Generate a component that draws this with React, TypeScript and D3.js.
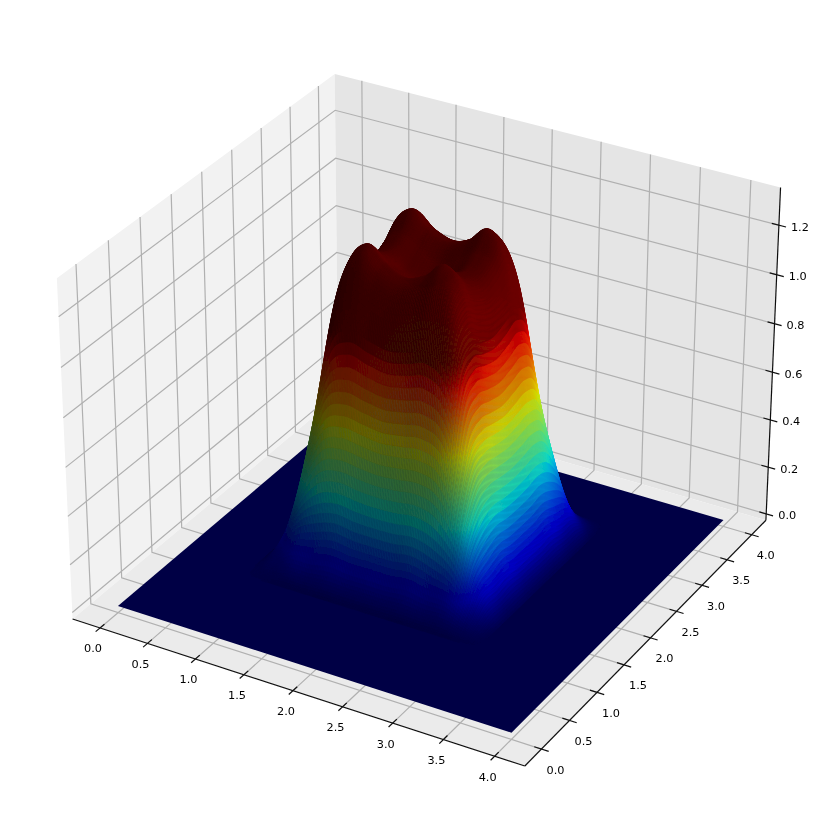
import React, { useEffect, useRef } from 'react';
import * as d3 from 'd3';

// Surface heights, rows are y, columns are x
const xGrid = [0.7, 0.9, 1.1, 1.3, 1.5, 1.7, 1.9, 2.1, 2.3, 2.5, 2.7, 2.9, 3.1];
const yGrid = [1.0, 1.2, 1.4, 1.6, 1.8, 2.0, 2.2, 2.4, 2.6, 2.8, 3.0, 3.2, 3.4];
const zGrid = [
  [0, 0, 0, 0, 0, 0, 0, 0, 0, 0, 0, 0, 0],
  [0, 0.05, 0.13, 0.15, 0.17, 0.16, 0.16, 0.16, 0.17, 0.15, 0.13, 0.05, 0],
  [0, 0.13, 0.40, 0.59, 0.63, 0.62, 0.61, 0.62, 0.63, 0.59, 0.40, 0.13, 0],
  [0, 0.15, 0.59, 1.03, 1.14, 1.11, 1.09, 1.11, 1.14, 1.03, 0.59, 0.15, 0],
  [0, 0.17, 0.63, 1.14, 1.28, 1.22, 1.19, 1.22, 1.28, 1.14, 0.63, 0.17, 0],
  [0, 0.16, 0.62, 1.11, 1.22, 1.17, 1.13, 1.17, 1.22, 1.11, 0.62, 0.16, 0],
  [0, 0.16, 0.61, 1.09, 1.19, 1.13, 1.1, 1.13, 1.19, 1.09, 0.61, 0.16, 0],
  [0, 0.16, 0.62, 1.11, 1.22, 1.17, 1.13, 1.17, 1.22, 1.11, 0.62, 0.16, 0],
  [0, 0.17, 0.63, 1.14, 1.28, 1.22, 1.19, 1.22, 1.28, 1.14, 0.63, 0.17, 0],
  [0, 0.15, 0.59, 1.03, 1.14, 1.11, 1.09, 1.11, 1.14, 1.03, 0.59, 0.15, 0],
  [0, 0.13, 0.40, 0.59, 0.63, 0.62, 0.61, 0.62, 0.63, 0.59, 0.40, 0.13, 0],
  [0, 0.05, 0.13, 0.15, 0.17, 0.16, 0.16, 0.16, 0.17, 0.15, 0.13, 0.05, 0],
  [0, 0, 0, 0, 0, 0, 0, 0, 0, 0, 0, 0, 0],
];

const xTicks = [0, 0.5, 1, 1.5, 2, 2.5, 3, 3.5, 4];
const yTicks = [0, 0.5, 1, 1.5, 2, 2.5, 3, 3.5, 4];
const zTicks = [0, 0.2, 0.4, 0.6, 0.8, 1, 1.2];

// Pane limits of the box
const xLim = [-0.2917, 4.2917];
const yLim = [-0.2917, 4.2917];
const zLim = [-0.0277, 1.35];

const SUB = 12;
const VMAX = 0.97;

// Same view as mplot3d elev=30 azim=-60
const boxX = 1.1428;
const boxZ = 0.8571;
const pxX = d3.scaleLinear().domain([0, 1]).range([425.4, 425.4 + 4535]);
const pxY = d3.scaleLinear().domain([0, 1]).range([404, 404 - 4535]);
const normX = d3.scaleLinear().domain(xLim).range([-boxX / 2, boxX / 2]);
const normY = d3.scaleLinear().domain(yLim).range([-boxX / 2, boxX / 2]);
const normZ = d3.scaleLinear().domain(zLim).range([-boxZ / 2, boxZ / 2]);

const project = (x: number, y: number, z: number) => {
  const X = normX(x);
  const Y = normY(y);
  const Z = normZ(z);
  const u = 0.866025 * X + 0.5 * Y;
  const v = -0.25 * X + 0.433013 * Y + 0.866025 * Z;
  const n = 0.433013 * X - 0.75 * Y + 0.5 * Z;
  const d = 10 - n;
  return [pxX(u / d), pxY(v / d), d];
};

const jetR = d3.scaleLinear().domain([0, 0.35, 0.66, 0.89, 1]).range([0, 0, 1, 1, 0.5]);
const jetG = d3.scaleLinear().domain([0, 0.125, 0.375, 0.64, 0.91, 1]).range([0, 0, 1, 1, 0, 0]);
const jetB = d3.scaleLinear().domain([0, 0.11, 0.34, 0.65, 1]).range([0.5, 1, 1, 0, 0]);

const shadedJet = (z: number, nx: number, ny: number, nz: number) => {
  const level = Math.min(z / VMAX, 1);
  const len = Math.hypot(nx, ny, nz);
  // light direction as in mplot3d, normals point down
  const shade = -(nx * -0.6667 + ny * -0.6667 + nz * 0.3333) / len;
  const f = 0.3 + 0.7 * (shade + 1) / 2;
  return d3.rgb(jetR(level) * f * 255, jetG(level) * f * 255, jetB(level) * f * 255).formatHex();
};

const cr = (a: number, b: number, c: number, d: number, t: number) =>
  0.5 * (2 * b + (c - a) * t + (2 * a - 5 * b + 4 * c - d) * t * t + (3 * b - a - 3 * c + d) * t * t * t);

const pick = (j: number, i: number) => {
  const row = zGrid[Math.max(0, Math.min(zGrid.length - 1, j))];
  return row[Math.max(0, Math.min(row.length - 1, i))];
};

const smoothZ = (fi: number, fj: number) => {
  const i = Math.min(Math.floor(fi), xGrid.length - 2);
  const j = Math.min(Math.floor(fj), yGrid.length - 2);
  const s = fi - i;
  const t = fj - j;
  const rows = [-1, 0, 1, 2].map(dj =>
    cr(pick(j + dj, i - 1), pick(j + dj, i), pick(j + dj, i + 1), pick(j + dj, i + 2), s));
  return Math.max(0, cr(rows[0], rows[1], rows[2], rows[3], t));
};

const App = () => {
  const svgRef = useRef<SVGSVGElement>(null);

  useEffect(() => {
    const root = d3.select(svgRef.current);
    root.selectAll('*').remove();

    // The reference is a little soft, as if it was resampled
    root.append('defs').append('filter')
      .attr('id', 'soft')
      .attr('filterUnits', 'userSpaceOnUse')
      .attr('x', 0).attr('y', 0).attr('width', 830).attr('height', 830)
      .append('feGaussianBlur').attr('stdDeviation', 0.6);
    const svg = root.append('g').attr('filter', 'url(#soft)');

    const path = (pts: number[][]) =>
      'M' + pts.map(p => { const q = project(p[0], p[1], p[2]); return q[0].toFixed(2) + ',' + q[1].toFixed(2); }).join('L') + 'Z';
    const [x0, x1] = xLim;
    const [y0, y1] = yLim;
    const [z0, z1] = zLim;

    // Panes
    svg.append('path').attr('d', path([[x0, y0, z0], [x0, y1, z0], [x0, y1, z1], [x0, y0, z1]])).attr('fill', '#f2f2f2');
    svg.append('path').attr('d', path([[x0, y1, z0], [x1, y1, z0], [x1, y1, z1], [x0, y1, z1]])).attr('fill', '#e5e5e5');
    svg.append('path').attr('d', path([[x0, y0, z0], [x1, y0, z0], [x1, y1, z0], [x0, y1, z0]])).attr('fill', '#ebebeb');

    // Grid
    const line = (pts: number[][], color: string, w: number) =>
      svg.append('polyline')
        .attr('points', pts.map(p => { const q = project(p[0], p[1], p[2]); return q[0] + ',' + q[1]; }).join(' '))
        .attr('fill', 'none').attr('stroke', color).attr('stroke-width', w);
    xTicks.forEach(t => line([[t, y0, z0], [t, y1, z0], [t, y1, z1]], '#b0b0b0', 1.2));
    yTicks.forEach(t => line([[x1, t, z0], [x0, t, z0], [x0, t, z1]], '#b0b0b0', 1.2));
    zTicks.forEach(t => line([[x0, y0, t], [x0, y1, t], [x1, y1, t]], '#b0b0b0', 1.2));

    // Axis lines
    line([[x0, y0, z0], [x1, y0, z0]], '#111', 1.2);
    line([[x1, y0, z0], [x1, y1, z0]], '#111', 1.2);
    line([[x1, y1, z0], [x1, y1, z1]], '#111', 1.2);

    // Ticks and labels
    const label = (p: number[], dx: number, dy: number, text: string) =>
      svg.append('text')
        .attr('x', p[0] + dx).attr('y', p[1] + dy)
        .attr('text-anchor', 'middle').attr('dominant-baseline', 'central')
        .attr('font-family', 'DejaVu Sans').attr('font-size', 11.3).attr('fill', '#000')
        .text(text);
    xTicks.forEach(t => {
      line([[t, y0 - 0.07, z0], [t, y0 + 0.07, z0]], '#111', 1.2);
      label(project(t, y0, z0), -7, 21, t.toFixed(1));
    });
    yTicks.forEach(t => {
      line([[x1 - 0.07, t, z0], [x1 + 0.07, t, z0]], '#111', 1.2);
      label(project(x1, t, z0), 14, 21, t.toFixed(1));
    });
    zTicks.forEach(t => {
      line([[x1 - 0.07, y1, t], [x1 + 0.07, y1, t]], '#111', 1.2);
      label(project(x1, y1, t), 21, 2, t.toFixed(1));
    });

    // Flat part of the surface
    const baseColor = shadedJet(0, 0, 0, 1);
    svg.append('path').attr('d', path([[0, 0, 0], [4, 0, 0], [4, 4, 0], [0, 4, 0]])).attr('fill', baseColor);

    // Raised part, far faces first
    const nx = (xGrid.length - 1) * SUB;
    const ny = (yGrid.length - 1) * SUB;
    const dx = (xGrid[1] - xGrid[0]) / SUB;
    const dy = (yGrid[1] - yGrid[0]) / SUB;
    const xAt = (i: number) => xGrid[0] + i * dx;
    const yAt = (j: number) => yGrid[0] + j * dy;
    const mesh = d3.range(ny + 1).map(j => d3.range(nx + 1).map(i => smoothZ(i / SUB, j / SUB)));

    const faces: { d: number; path: string; fill: string }[] = [];
    for (let j = 0; j < ny; j++) {
      for (let i = 0; i < nx; i++) {
        const a = mesh[j][i];
        const b = mesh[j][i + 1];
        const c = mesh[j + 1][i + 1];
        const e = mesh[j + 1][i];
        const mean = (a + b + c + e) / 4;
        if (mean < 0.001) continue;
        const gx = (b + c - a - e) / 2 / dx;
        const gy = (c + e - a - b) / 2 / dy;
        faces.push({
          d: project(xAt(i + 0.5), yAt(j + 0.5), mean)[2],
          path: path([[xAt(i), yAt(j), a], [xAt(i + 1), yAt(j), b], [xAt(i + 1), yAt(j + 1), c], [xAt(i), yAt(j + 1), e]]),
          fill: shadedJet(mean, -gx, -gy, 1),
        });
      }
    }
    faces.sort((p, q) => q.d - p.d);

    svg.append('g').selectAll('path').data(faces).enter().append('path')
      .attr('d', f => f.path)
      .attr('fill', f => f.fill)
      .attr('stroke', f => f.fill)
      .attr('stroke-width', 0.5);
  }, []);

  return (
    <svg ref={svgRef} width={830} height={830}
      style={{ position: 'absolute', left: 0, top: 0, background: '#fff' }} />
  );
};

export default App;
